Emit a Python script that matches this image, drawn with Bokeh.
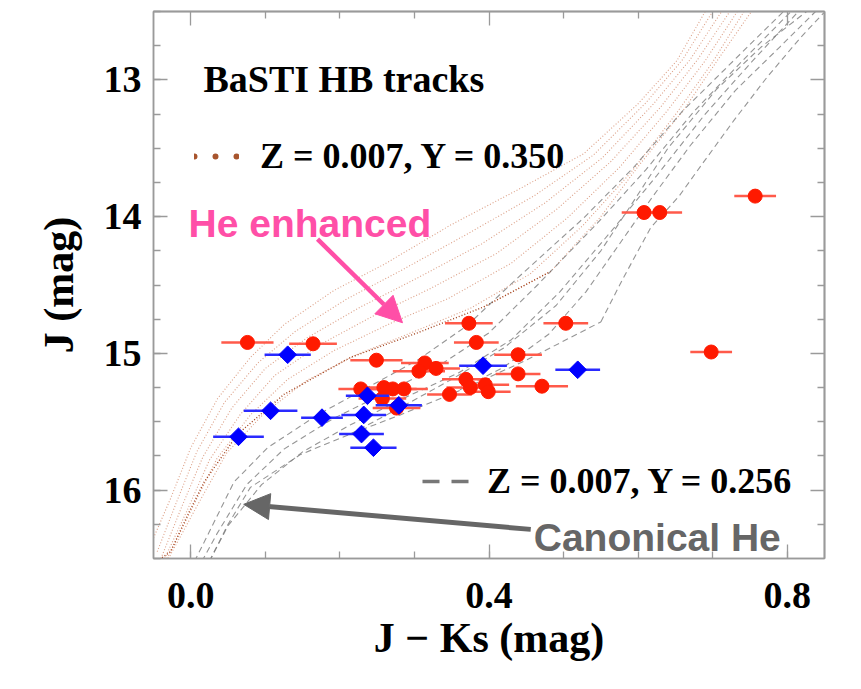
import numpy as np
from bokeh.plotting import figure
from bokeh.models import (Range1d, SingleIntervalTicker, FixedTicker, LinearAxis, Label, Arrow,
                          NormalHead, Legend, LegendItem, ColumnDataSource, PrintfTickFormatter)
from bokeh.embed import file_html
from bokeh.resources import INLINE

# ---------------- data ----------------
red_jk = [0.076, 0.164, 0.249, 0.314, 0.329, 0.306, 0.228, 0.259, 0.271, 0.286,
          0.257, 0.276, 0.347, 0.373, 0.503, 0.383, 0.439, 0.439, 0.471, 0.369,
          0.375, 0.395, 0.399, 0.608, 0.629, 0.757, 0.698]
red_j = [14.92, 14.93, 15.05, 15.07, 15.11, 15.13, 15.26, 15.25, 15.26, 15.26,
         15.33, 15.40, 15.30, 14.78, 14.78, 14.92, 15.01, 15.15, 15.24, 15.19,
         15.25, 15.23, 15.28, 13.97, 13.97, 13.85, 14.99]
red_err = [0.035, 0.032, 0.035, 0.032, 0.032, 0.035, 0.030, 0.032, 0.032, 0.032,
           0.032, 0.032, 0.030, 0.032, 0.030, 0.030, 0.032, 0.030, 0.035, 0.032,
           0.032, 0.032, 0.030, 0.030, 0.030, 0.028, 0.028]

blue_jk = [0.130, 0.107, 0.064, 0.176, 0.237, 0.232, 0.229, 0.245, 0.279, 0.392, 0.519]
blue_j = [15.01, 15.42, 15.61, 15.47, 15.31, 15.45, 15.59, 15.69, 15.38, 15.09, 15.12]
blue_err = [0.031, 0.036, 0.034, 0.028, 0.029, 0.030, 0.030, 0.031, 0.031, 0.032, 0.030]

# He-enhanced tracks (Z=0.007, Y=0.350), dotted
he_zahb_x = [-0.045, -0.027, -0.004, 0.018, 0.063, 0.125, 0.214, 0.304, 0.393, 0.483]
he_zahb_y = [16.52, 16.45, 16.18, 15.94, 15.59, 15.30, 15.03, 14.85, 14.66, 14.40]
he_tracks_x = [
    [-0.050, -0.027, 0.000, 0.036, 0.080, 0.125, 0.192, 0.259, 0.349, 0.440, 0.527, 0.599, 0.652, 0.690],
    [-0.045, -0.020, 0.008, 0.045, 0.090, 0.140, 0.210, 0.280, 0.370, 0.460, 0.540, 0.610, 0.660, 0.700],
    [-0.040, -0.012, 0.016, 0.055, 0.100, 0.155, 0.228, 0.300, 0.390, 0.475, 0.552, 0.620, 0.670, 0.712],
    [-0.035, -0.005, 0.025, 0.066, 0.113, 0.172, 0.247, 0.320, 0.410, 0.490, 0.563, 0.630, 0.680, 0.723],
    [-0.032, 0.002, 0.035, 0.080, 0.130, 0.192, 0.268, 0.345, 0.430, 0.505, 0.575, 0.640, 0.690, 0.733],
    [-0.030, 0.010, 0.048, 0.098, 0.155, 0.222, 0.300, 0.375, 0.455, 0.525, 0.590, 0.652, 0.700, 0.742],
    [0.393, 0.483, 0.550, 0.599, 0.661, 0.706, 0.752],
]
he_tracks_y = [
    [16.35, 16.06, 15.69, 15.33, 15.03, 14.79, 14.54, 14.35, 14.06, 13.80, 13.54, 13.18, 12.86, 12.50],
    [16.45, 16.10, 15.72, 15.36, 15.07, 14.84, 14.60, 14.40, 14.13, 13.85, 13.55, 13.17, 12.85, 12.50],
    [16.50, 16.12, 15.76, 15.40, 15.11, 14.89, 14.66, 14.46, 14.20, 13.90, 13.57, 13.18, 12.85, 12.50],
    [16.50, 16.15, 15.78, 15.45, 15.16, 14.94, 14.72, 14.53, 14.27, 13.95, 13.60, 13.20, 12.85, 12.50],
    [16.50, 16.13, 15.77, 15.45, 15.19, 14.98, 14.78, 14.60, 14.34, 14.01, 13.64, 13.22, 12.86, 12.50],
    [16.50, 16.10, 15.73, 15.44, 15.20, 15.01, 14.84, 14.67, 14.42, 14.07, 13.68, 13.24, 12.87, 12.50],
    [14.66, 14.40, 14.00, 13.64, 13.22, 12.86, 12.50],
]

# Canonical tracks (Z=0.007, Y=0.256), dashed
can_zahb_x = [0.025, 0.050, 0.080, 0.147, 0.214, 0.281, 0.349, 0.450, 0.550]
can_zahb_y = [16.52, 16.25, 15.98, 15.74, 15.59, 15.45, 15.30, 15.05, 14.77]
can_tracks_x = [
    [0.005, 0.018, 0.058, 0.103, 0.170, 0.237, 0.304, 0.370, 0.438, 0.527, 0.594, 0.661, 0.728, 0.795],
    [0.015, 0.035, 0.075, 0.125, 0.190, 0.260, 0.330, 0.400, 0.465, 0.545, 0.610, 0.675, 0.740, 0.805],
    [0.025, 0.050, 0.095, 0.150, 0.215, 0.285, 0.360, 0.430, 0.495, 0.565, 0.625, 0.690, 0.752, 0.815],
    [0.214, 0.280, 0.350, 0.420, 0.490, 0.550, 0.590, 0.640, 0.705, 0.765, 0.826],
    [0.349, 0.420, 0.480, 0.530, 0.575, 0.620, 0.670, 0.730, 0.790, 0.838],
    [0.550, 0.580, 0.617, 0.655, 0.688, 0.728, 0.773, 0.818, 0.849],
]
can_tracks_y = [
    [16.52, 16.38, 15.94, 15.69, 15.45, 15.25, 15.05, 14.80, 14.45, 14.01, 13.64, 13.22, 12.86, 12.50],
    [16.52, 16.32, 15.96, 15.70, 15.48, 15.29, 15.10, 14.85, 14.50, 14.05, 13.66, 13.23, 12.86, 12.50],
    [16.52, 16.26, 15.96, 15.72, 15.52, 15.33, 15.14, 14.90, 14.55, 14.10, 13.70, 13.25, 12.87, 12.50],
    [15.59, 15.40, 15.19, 14.96, 14.65, 14.25, 13.92, 13.50, 13.07, 12.76, 12.50],
    [15.30, 15.10, 14.86, 14.55, 14.20, 13.85, 13.48, 13.08, 12.76, 12.50],
    [14.77, 14.45, 14.08, 13.85, 13.60, 13.30, 12.98, 12.69, 12.51],
]

legend_he = "Z = 0.007, Y = 0.350"
legend_can = "Z = 0.007, Y = 0.256"
x_title = "J \u2212 Ks (mag)"
y_title = "J (mag)"

# tick positions
x_major = [0.0, 0.4, 0.8]
x_minor = [0.1, 0.2, 0.3, 0.5, 0.6, 0.7]
y_major = [13, 14, 15, 16]
y_minor = [12.75, 13.25, 13.5, 13.75, 14.25, 14.5, 14.75, 15.25, 15.5, 15.75, 16.25]

# ---------------- figure ----------------
SERIF = "Liberation Serif"
SANS = "Liberation Sans"
FL, FR, FT, FB = 153, 37, 11, 131   # borders around the frame

p = figure(width=861, height=689, x_range=Range1d(-0.05, 0.85), y_range=Range1d(16.5, 12.5),
           output_backend="svg", toolbar_location=None,
           min_border_left=FL, min_border_right=FR, min_border_top=FT, min_border_bottom=FB)
p.xgrid.visible = False
p.ygrid.visible = False
p.background_fill_color = "white"
p.border_fill_color = "white"
p.outline_line_color = "#9a9a9a"
p.outline_line_width = 1.5

AX = "#9a9a9a"


def style_axis(ax):
    ax.axis_line_color = AX
    ax.axis_line_width = 1.5
    ax.major_tick_line_color = AX
    ax.minor_tick_line_color = AX
    ax.major_tick_line_width = 1.3
    ax.minor_tick_line_width = 1.3
    ax.major_tick_in = 14
    ax.major_tick_out = 0
    ax.minor_tick_in = 7
    ax.minor_tick_out = 0
    ax.major_label_text_font = SERIF
    ax.major_label_text_font_style = "bold"
    ax.major_label_text_font_size = "38px"
    ax.major_label_text_color = "black"
    ax.axis_label_text_font = SERIF
    ax.axis_label_text_font_style = "bold"
    ax.axis_label_text_font_size = "42px"
    ax.axis_label_text_color = "black"


p.xaxis.ticker = SingleIntervalTicker(interval=0.4, num_minor_ticks=4)
p.yaxis.ticker = SingleIntervalTicker(interval=1.0, num_minor_ticks=4)
p.xaxis.formatter = PrintfTickFormatter(format="%.1f")
style_axis(p.xaxis[0])
style_axis(p.yaxis[0])
p.xaxis.major_label_standoff = 24
p.yaxis.major_label_standoff = 12
p.xaxis.axis_label = x_title
p.yaxis.axis_label = y_title
p.xaxis.axis_label_standoff = 4
p.yaxis.axis_label_standoff = 19

# mirrored ticks on top and right (no labels)
for side, major, minor in [("above", x_major, x_minor), ("right", y_major, y_minor)]:
    for ticks, ln in [(major, 14), (minor, 7)]:
        ax = LinearAxis(ticker=FixedTicker(ticks=[], minor_ticks=ticks))
        ax.axis_line_color = AX
        ax.axis_line_width = 1.5
        ax.minor_tick_line_color = AX
        ax.minor_tick_line_width = 1.3
        ax.minor_tick_in = ln
        ax.minor_tick_out = 0
        ax.major_tick_in = 0
        ax.major_tick_out = 0
        ax.major_label_standoff = 0
        p.add_layout(ax, side)

# ---------------- tracks ----------------
p.multi_line(xs=he_tracks_x, ys=he_tracks_y, line_color="#d68f72", line_width=1.1,
             line_dash="1 2", line_alpha=0.85)
p.line(he_zahb_x, he_zahb_y, line_color="#a4441f", line_width=1.4, line_dash="1 2")
p.multi_line(xs=can_tracks_x, ys=can_tracks_y, line_color="#7a7a7a", line_width=1.1,
             line_dash="6 4", line_alpha=0.8)
p.line(can_zahb_x, can_zahb_y, line_color="#7a7a7a", line_width=1.1, line_dash="6 4", line_alpha=0.8)

# ---------------- stars with error bars ----------------
rsrc = ColumnDataSource(dict(x=red_jk, y=red_j,
                             x0=[a - e for a, e in zip(red_jk, red_err)],
                             x1=[a + e for a, e in zip(red_jk, red_err)]))
bsrc = ColumnDataSource(dict(x=blue_jk, y=blue_j,
                             x0=[a - e for a, e in zip(blue_jk, blue_err)],
                             x1=[a + e for a, e in zip(blue_jk, blue_err)]))
p.segment(x0="x0", x1="x1", y0="y", y1="y", source=rsrc, line_color="#ff5a4a", line_width=2.5)
p.scatter(x="x", y="y", source=rsrc, marker="circle", size=14, fill_color="#ff1a00",
          line_color="#ff1a00")
p.segment(x0="x0", x1="x1", y0="y", y1="y", source=bsrc, line_color="#2a2aff", line_width=2.5)
p.scatter(x="x", y="y", source=bsrc, marker="square", angle=np.pi / 4, size=12.5,
          fill_color="#0000ff", line_color="#0000ff")

# ---------------- legends (two separate entries; key glyphs from hidden styled copies) ----------------
key_he = p.line(he_zahb_x, he_zahb_y, line_color="#a8552e", line_width=6, line_dash="0 21",
                line_cap="round", visible=False)
key_can = p.line(can_zahb_x, can_zahb_y, line_color="#777777", line_width=3.5, line_dash="17 12",
                 visible=False)


def make_legend(item_label, renderer, loc, gw, standoff):
    lg = Legend(items=[LegendItem(label=item_label, renderers=[renderer])], location=loc,
                border_line_color=None, background_fill_alpha=0, padding=0, margin=0,
                spacing=0, glyph_width=gw, glyph_height=40, label_height=40,
                label_standoff=standoff, label_text_font=SERIF, label_text_font_style="bold",
                label_text_font_size="36px", label_text_color="black",
                inactive_fill_alpha=0, click_policy="none")
    p.add_layout(lg)
    return lg


make_legend(legend_he, key_he, (194 - FL, 558 - 177), 45, 21)
make_legend(legend_can, key_can, (422 - FL, 558 - 502), 50, 15)

# ---------------- annotations ----------------
p.add_layout(Label(x=0.017, y=12.99, text="BaSTI HB tracks", text_font=SERIF,
                   text_font_style="bold", text_font_size="38px", text_color="black",
                   text_baseline="alphabetic"))
p.add_layout(Label(x=-0.003, y=14.05, text="He enhanced", text_font=SANS,
                   text_font_style="bold", text_font_size="39px", text_color="#ff4fa7",
                   text_baseline="alphabetic"))
p.add_layout(Label(x=0.460, y=16.35, text="Canonical He", text_font=SANS,
                   text_font_style="bold", text_font_size="39px", text_color="#666666",
                   text_baseline="alphabetic"))
p.add_layout(Arrow(x_start=0.170, y_start=14.165, x_end=0.284, y_end=14.776,
                   line_color="#ff4fa7", line_width=4.5,
                   end=NormalHead(size=26, fill_color="#ff4fa7", line_color="#ff4fa7")))
p.add_layout(Arrow(x_start=0.456, y_start=16.287, x_end=0.071, y_end=16.104,
                   line_color="#666666", line_width=5,
                   end=NormalHead(size=26, fill_color="#666666", line_color="#666666")))

open("out.html", "w").write(file_html(p, INLINE))
